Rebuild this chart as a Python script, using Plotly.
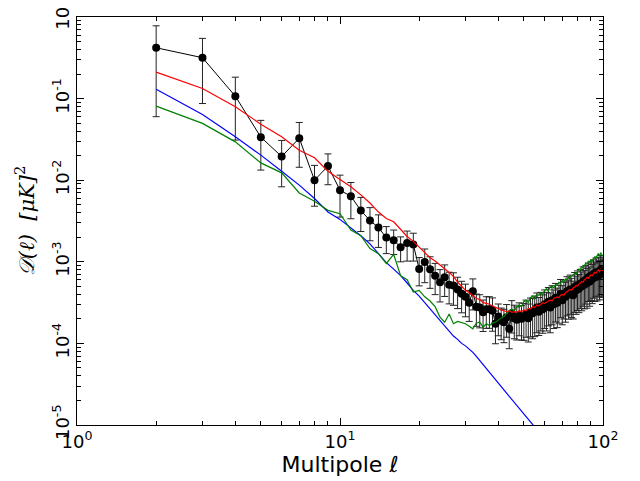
import plotly.graph_objects as go

# multipoles
ell = list(range(2, 101))

# measured band powers D(l) [uK^2] and 1-sigma errors
d_obs = [0.420, 0.317, 0.107, 3.37e-2, 1.95e-2, 3.27e-2, 1.00e-2, 1.49e-2, 7.53e-3, 6.37e-3,
         4.25e-3, 3.21e-3, 2.63e-3, 1.98e-3, 1.84e-3, 1.51e-3, 1.70e-3, 1.63e-3, 8.17e-4, 9.95e-4,
         8.13e-4, 6.76e-4, 5.62e-4, 6.46e-4, 5.25e-4, 5.13e-4, 4.57e-4, 4.07e-4, 3.72e-4, 3.16e-4,
         4.37e-4, 2.82e-4, 2.75e-4, 2.40e-4, 2.63e-4, 2.63e-4, 2.51e-4, 1.74e-4, 2.14e-4, 1.91e-4,
         1.82e-4, 2.09e-4, 1.51e-4, 2.34e-4, 2.04e-4, 1.95e-4, 2.19e-4, 2.00e-4, 2.09e-4, 2.29e-4,
         2.04e-4, 2.40e-4, 2.34e-4, 2.51e-4, 2.75e-4, 2.45e-4, 2.82e-4, 2.63e-4, 3.02e-4, 2.82e-4,
         3.24e-4, 2.75e-4, 3.39e-4, 3.02e-4, 3.63e-4, 3.16e-4, 3.47e-4, 4.07e-4, 3.39e-4, 3.89e-4,
         3.72e-4, 4.37e-4, 3.98e-4, 4.57e-4, 4.17e-4, 3.89e-4, 4.90e-4, 4.47e-4, 5.13e-4, 4.68e-4,
         5.37e-4, 5.01e-4, 5.75e-4, 5.25e-4, 6.03e-4, 5.50e-4, 6.46e-4, 5.75e-4, 6.76e-4, 6.17e-4,
         7.08e-4, 6.46e-4, 7.41e-4, 6.61e-4, 7.59e-4, 6.92e-4, 7.94e-4, 7.24e-4, 7.59e-4]

d_err = [0.36, 0.23, 0.076, 2.04e-2, 1.12e-2, 1.83e-2, 5.2e-3, 6.1e-3, 4.0e-3, 3.0e-3,
         1.9e-3, 1.4e-3, 1.13e-3, 7.2e-4, 6.1e-4, 5.1e-4, 6.8e-4, 6.1e-4, 3.1e-4, 4.4e-4,
         3.4e-4, 2.8e-4, 2.4e-4, 2.7e-4, 2.2e-4, 2.2e-4, 1.9e-4, 1.7e-4, 1.6e-4, 1.3e-4,
         1.8e-4, 1.2e-4, 1.2e-4, 1.0e-4, 1.1e-4, 1.1e-4, 1.1e-4, 7.5e-5, 9.0e-5, 8.0e-5,
         8.0e-5, 9.0e-5, 6.5e-5, 1.0e-4, 9.0e-5, 8.5e-5, 9.5e-5, 9.0e-5, 1.0e-4, 1.1e-4,
         1.0e-4, 1.2e-4, 1.2e-4, 1.3e-4, 1.4e-4, 1.2e-4, 1.4e-4, 1.3e-4, 1.5e-4, 1.4e-4,
         1.6e-4, 1.4e-4, 1.7e-4, 1.5e-4, 1.8e-4, 1.6e-4, 1.7e-4, 2.0e-4, 1.7e-4, 1.9e-4,
         1.9e-4, 2.2e-4, 2.0e-4, 2.3e-4, 2.1e-4, 1.9e-4, 2.5e-4, 2.2e-4, 2.6e-4, 2.3e-4,
         2.7e-4, 2.5e-4, 2.9e-4, 2.6e-4, 3.0e-4, 2.8e-4, 3.2e-4, 2.9e-4, 3.4e-4, 3.1e-4,
         3.5e-4, 3.2e-4, 3.7e-4, 3.3e-4, 3.8e-4, 3.5e-4, 4.0e-4, 3.6e-4, 3.8e-4]

# model spectra
d_red = [0.211, 0.133, 0.0794, 0.0486, 0.0340, 0.0233, 0.0188, 0.0129, 0.0102, 8.32e-3,
         6.61e-3, 5.25e-3, 4.07e-3, 3.39e-3, 3.09e-3, 2.51e-3, 2.04e-3, 1.78e-3, 1.51e-3, 1.32e-3,
         1.12e-3, 1.02e-3, 9.12e-4, 8.32e-4, 7.41e-4, 6.61e-4, 5.62e-4, 5.01e-4, 4.47e-4, 4.17e-4,
         3.80e-4, 3.55e-4, 3.47e-4, 3.16e-4, 3.09e-4, 3.02e-4, 2.88e-4, 2.75e-4, 2.63e-4, 2.57e-4,
         2.51e-4, 2.45e-4, 2.51e-4, 2.40e-4, 2.45e-4, 2.40e-4, 2.51e-4, 2.45e-4, 2.57e-4, 2.51e-4,
         2.69e-4, 2.63e-4, 2.82e-4, 2.75e-4, 2.95e-4, 2.88e-4, 3.02e-4, 3.16e-4, 3.09e-4, 3.24e-4,
         3.31e-4, 3.39e-4, 3.31e-4, 3.55e-4, 3.63e-4, 3.72e-4, 3.63e-4, 3.89e-4, 3.98e-4, 3.89e-4,
         4.17e-4, 4.27e-4, 4.37e-4, 4.57e-4, 4.47e-4, 4.79e-4, 4.90e-4, 5.13e-4, 5.01e-4, 5.37e-4,
         5.50e-4, 5.75e-4, 5.62e-4, 6.03e-4, 6.17e-4, 6.46e-4, 6.31e-4, 6.76e-4, 6.92e-4, 6.76e-4,
         7.24e-4, 7.41e-4, 7.24e-4, 7.76e-4, 7.94e-4, 7.59e-4, 8.13e-4, 7.94e-4, 7.76e-4]

ell_blue = list(range(2, 61))
d_blue = [0.130, 0.0640, 0.0340, 0.0203, 0.0129, 8.71e-3, 5.96e-3, 4.08e-3, 3.31e-3, 2.63e-3,
          2.09e-3, 1.66e-3, 1.26e-3, 9.77e-4, 8.13e-4, 6.76e-4, 5.50e-4, 4.47e-4, 3.80e-4, 3.16e-4,
          2.63e-4, 2.19e-4, 1.86e-4, 1.62e-4, 1.38e-4, 1.23e-4, 1.12e-4, 1.00e-4, 9.33e-5, 8.51e-5,
          7.76e-5, 6.92e-5, 6.17e-5, 5.50e-5, 5.01e-5, 4.47e-5, 3.98e-5, 3.63e-5, 3.24e-5, 2.95e-5,
          2.69e-5, 2.45e-5, 2.24e-5, 2.09e-5, 1.91e-5, 1.78e-5, 1.62e-5, 1.51e-5, 1.38e-5, 1.29e-5,
          1.20e-5, 1.10e-5, 1.02e-5, 9.55e-6, 8.91e-6, 8.32e-6, 7.76e-6, 7.24e-6, 6.76e-6]

d_green = [0.0809, 0.0497, 0.0295, 0.0163, 0.0123, 6.98e-3, 5.52e-3, 4.27e-3, 3.89e-3, 2.45e-3,
           2.09e-3, 1.45e-3, 1.26e-3, 9.55e-4, 1.23e-3, 6.76e-4, 6.03e-4, 4.27e-4, 4.47e-4, 3.72e-4,
           3.31e-4, 2.82e-4, 2.09e-4, 1.82e-4, 2.29e-4, 1.74e-4, 1.86e-4, 1.78e-4, 1.74e-4, 1.62e-4,
           1.51e-4, 1.78e-4, 1.82e-4, 1.58e-4, 1.74e-4, 1.66e-4, 1.78e-4, 1.82e-4, 1.95e-4, 2.04e-4,
           2.14e-4, 2.34e-4, 2.51e-4, 2.63e-4, 2.51e-4, 2.82e-4, 2.95e-4, 2.82e-4, 3.24e-4, 3.39e-4,
           3.16e-4, 3.63e-4, 3.80e-4, 3.55e-4, 3.98e-4, 3.89e-4, 4.17e-4, 3.98e-4, 4.47e-4, 4.68e-4,
           4.37e-4, 4.90e-4, 5.01e-4, 4.79e-4, 5.25e-4, 5.13e-4, 5.62e-4, 5.37e-4, 5.89e-4, 5.75e-4,
           6.17e-4, 6.03e-4, 6.46e-4, 6.31e-4, 6.61e-4, 6.92e-4, 7.24e-4, 7.08e-4, 7.76e-4, 8.13e-4,
           7.94e-4, 8.71e-4, 8.51e-4, 9.12e-4, 9.55e-4, 9.33e-4, 1.00e-3, 9.77e-4, 1.05e-3, 1.02e-3,
           1.10e-3, 1.15e-3, 1.12e-3, 1.20e-3, 1.26e-3, 1.17e-3, 1.29e-3, 1.23e-3, 1.17e-3]

x_ticks = [1, 10, 100]
x_labels = ["10<sup>0</sup>", "10<sup>1</sup>", "10<sup>2</sup>"]
y_ticks = [1e-5, 1e-4, 1e-3, 1e-2, 1e-1, 1]
y_labels = ["10<sup>-5</sup>", "10<sup>-4</sup>", "10<sup>-3</sup>",
            "10<sup>-2</sup>", "10<sup>-1</sup>", "10<sup>0</sup>"]

fig = go.Figure()

fig.add_trace(go.Scatter(
    x=ell, y=d_obs, mode="lines+markers",
    line=dict(color="black", width=1),
    marker=dict(color="black", size=8),
    error_y=dict(type="data", array=d_err, color="#222222", thickness=1, width=3.5),
    showlegend=False))
fig.add_trace(go.Scatter(x=ell_blue, y=d_blue, mode="lines",
                         line=dict(color="#0000ff", width=1.2), showlegend=False))
fig.add_trace(go.Scatter(x=ell, y=d_green, mode="lines",
                         line=dict(color="#008000", width=1.2), showlegend=False))
fig.add_trace(go.Scatter(x=ell, y=d_red, mode="lines",
                         line=dict(color="#ff0000", width=1.2), showlegend=False))

minor_x = [m * 10 ** k for k in range(0, 2) for m in range(2, 10)]
minor_y = [m * 10.0 ** k for k in range(-5, 0) for m in range(2, 10)]

axis_common = dict(
    showgrid=False, zeroline=False, showline=True, linecolor="black", linewidth=1.2,
    mirror="allticks", ticks="inside", ticklen=7, tickwidth=1, tickcolor="black",
    tickfont=dict(family="DejaVu Sans", size=18, color="black"), automargin=False,
    ticklabeloverflow="allow",
)

fig.update_xaxes(type="log", range=[0, 2], tickvals=x_ticks, ticktext=x_labels,
                 minor=dict(tickvals=minor_x, ticks="inside", ticklen=4, tickcolor="black"),
                 title=dict(text="Multipole <i>ℓ</i>", standoff=2,
                            font=dict(family="DejaVu Sans", size=22, color="black")),
                 **axis_common)
fig.update_yaxes(type="log", range=[-5, 0], tickvals=y_ticks, ticktext=y_labels,
                 tickangle=-90,
                 minor=dict(tickvals=minor_y, ticks="inside", ticklen=4, tickcolor="black"),
                 title=dict(text="<i>𝒟(ℓ)  [μK]</i><sup>2</sup>", standoff=8,
                            font=dict(family="DejaVu Serif", size=21, color="black")),
                 **axis_common)

# the page adds an 8px body margin, so the plot box is shifted back by that much
fig.update_layout(
    width=640, height=481,
    margin=dict(l=69, r=45, t=9, b=64),
    paper_bgcolor="white", plot_bgcolor="white",
)

fig.write_html("out.html")
